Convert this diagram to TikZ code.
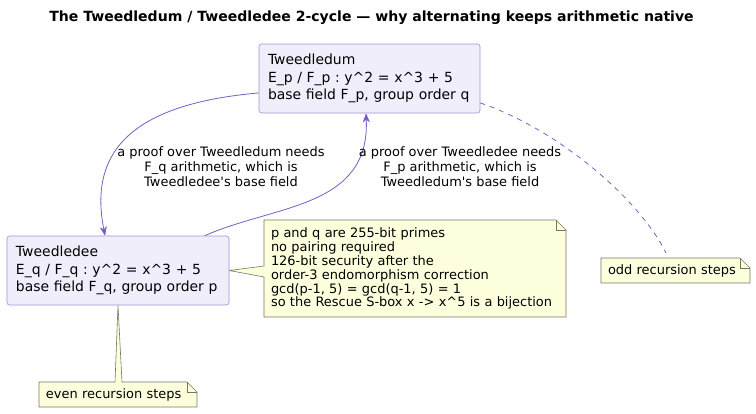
\documentclass[tikz,border=0pt]{standalone}
\usepackage{fontspec}
\setmainfont{DejaVu Sans}
\frenchspacing
\usetikzlibrary{arrows.meta,backgrounds}
\definecolor{boxfill}{HTML}{F1EEFC}
\definecolor{boxline}{HTML}{A28ED6}
\definecolor{edgeline}{HTML}{7B5CC2}
\definecolor{notefill}{HTML}{FEFFDD}
\definecolor{noteline}{HTML}{77775F}
\begin{document}
\begin{tikzpicture}[x=1bp,y=-1bp,
  curvebox/.style={draw=boxline,fill=boxfill,rounded corners=2.5bp,line width=0.6bp,
    inner xsep=9bp,inner ysep=0pt,text width=204bp,minimum height=69bp,align=left,
    font=\fontsize{14}{17.5}\selectfont},
  notetext/.style={inner xsep=7bp,inner ysep=0pt,outer sep=0pt,align=left,font=\fontsize{13}{14}\selectfont},
  edgelabel/.style={align=center,font=\fontsize{13}{15}\selectfont},
  proofedge/.style={draw=edgeline,line width=0.8bp,-{Stealth[length=9bp,width=7bp,inset=2.5bp]}},
  noteedge/.style={draw=noteline,fill=notefill,line width=0.6bp}]
\useasboundingbox (0,0) rectangle (756,413);

\node[font=\fontsize{14.1}{17}\selectfont\bfseries] (title) at (371.5,18)
  {The Tweedledum / Tweedledee 2-cycle — why alternating keeps arithmetic native};

% the two curves
\node[curvebox,text width=203bp] (dum) at (369.5,78.5)
  {Tweedledum\\E\_p / F\_p : y\textasciicircum2 = x\textasciicircum3 + 5\\base field F\_p, group order q};
\node[curvebox] (dee) at (118,270.5)
  {Tweedledee\\E\_q / F\_q : y\textasciicircum2 = x\textasciicircum3 + 5\\base field F\_q, group order p};

% notes
\node[notetext,text width=288bp,minimum height=97bp] (facts) at (415,268.5)
  {p and q are 255-bit primes\\no pairing required\\126-bit security after the\\order-3 endomorphism correction\\gcd(p-1, 5) = gcd(q-1, 5) = 1\\so the Rescue S-box x -> x\textasciicircum5 is a bijection};
\node[notetext,text width=135bp,minimum height=25bp] (odd) at (675.5,270.5) {odd recursion steps};
\node[notetext,text width=144bp,minimum height=25bp] (even) at (118,394.5) {even recursion steps};

\begin{pgfonlayer}{background}
 \path[noteedge] (facts.north west) -- ([xshift=-10]facts.north east) -- ([yshift=-10]facts.north east)
   -- (facts.south east) -- (facts.south west) -- ([yshift=-8.5]facts.west) -- (dee.east)
   -- ([yshift=2.5]facts.west) -- cycle;
 \draw[noteline,line width=0.6bp] ([xshift=-10]facts.north east) -- ([xshift=-10,yshift=-10]facts.north east) -- ([yshift=-10]facts.north east);
 \path[noteedge] (odd.north west) -- ([xshift=-10]odd.north east) -- ([yshift=-10]odd.north east)
   -- (odd.south east) -- (odd.south west) -- cycle;
 \draw[noteline,line width=0.6bp] ([xshift=-10]odd.north east) -- ([xshift=-10,yshift=-10]odd.north east) -- ([yshift=-10]odd.north east);
 \path[noteedge] (even.north west) -- ([xshift=-3]even.north) -- (dee.south) -- ([xshift=4]even.north)
   -- ([xshift=-10]even.north east) -- ([yshift=-10]even.north east)
   -- (even.south east) -- (even.south west) -- cycle;
 \draw[noteline,line width=0.6bp] ([xshift=-10]even.north east) -- ([xshift=-10,yshift=-10]even.north east) -- ([yshift=-10]even.north east);
\end{pgfonlayer}

% edges
\draw[proofedge] ([yshift=-14.5]dum.west) .. controls +(-138,12) and +(-15,-76) .. ([xshift=-13]dee.north);
\draw[proofedge] ([xshift=87]dee.north) .. controls +(70,-31) and +(4,95) .. ([xshift=-3.5]dum.south);
\draw[edgeline,line width=0.8bp,dash pattern=on 5bp off 5bp] ([yshift=-24.5]dum.east) .. controls +(79,27) and +(-26,-53) .. ([xshift=-9.5,yshift=5]odd.north);

\node[edgelabel] (lbl1) at (221,167) {a proof over Tweedledum needs\\F\_q arithmetic, which is\\Tweedledee\textquotesingle s base field};
\node[edgelabel] (lbl2) at (460,167) {a proof over Tweedledee needs\\F\_p arithmetic, which is\\Tweedledum\textquotesingle s base field};
\end{tikzpicture}
\end{document}
